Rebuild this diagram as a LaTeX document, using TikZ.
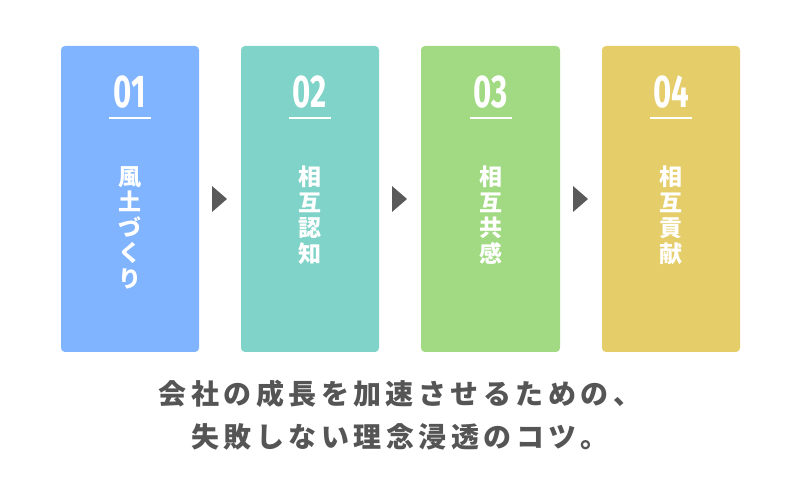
\documentclass[tikz,border=0pt]{standalone}
\usepackage{fontspec}
\usepackage{tikz}
\usetikzlibrary{calc}
\newfontfamily\jpfont{Noto Sans CJK JP}
\newfontfamily\jpcapfont[LetterSpace=16]{Noto Sans CJK JP}
\newfontfamily\numfont[FakeStretch=0.68]{Fira Sans}
\definecolor{cardblue}{HTML}{80B4FF}
\definecolor{cardteal}{HTML}{80D3C8}
\definecolor{cardgreen}{HTML}{A1DA82}
\definecolor{cardyellow}{HTML}{E5CD6A}
\definecolor{arrowgray}{HTML}{5A5A5A}
\definecolor{captiongray}{HTML}{555555}

\begin{document}
\begin{tikzpicture}[x=1pt,y=1pt,
    stepcard/.style={rounded corners=4pt},
    stepnum/.style={text=white, inner sep=0, font=\numfont\bfseries\fontsize{46}{46}\selectfont},
    stepline/.style={white, line width=2pt},
    steptext/.style={text=white, inner sep=0, anchor=north, align=center,
        font=\jpfont\bfseries\fontsize{23}{25.5}\selectfont},
    captext/.style={text=captiongray, inner sep=0,
        font=\jpcapfont\bfseries\fontsize{28}{28}\selectfont}]
    \useasboundingbox (0,0) rectangle (800,500);

    % cards
    \fill[cardblue, stepcard] (61,148) rectangle (199,454);
    \fill[cardteal, stepcard] (241,148) rectangle (379,454);
    \fill[cardgreen, stepcard] (421,148) rectangle (560,454);
    \fill[cardyellow, stepcard] (602,148) rectangle (740,454);

    % numbers and rules
    \node[stepnum] (n1) at (130,408) {01};
    \node[stepnum] (n2) at (310,408) {02};
    \node[stepnum] (n3) at (490.5,408) {03};
    \node[stepnum] (n4) at (671,408) {04};
    \draw[stepline] (109,382) -- (151,382);
    \draw[stepline] (289,382) -- (331,382);
    \draw[stepline] (469.5,382) -- (511.5,382);
    \draw[stepline] (650,382) -- (692,382);

    % vertical labels
    \node[steptext] (t1) at (130,334) {風\\土\\づ\\く\\り};
    \node[steptext] (t2) at (310,334) {相\\互\\認\\知};
    \node[steptext] (t3) at (490.5,334) {相\\互\\共\\感};
    \node[steptext] (t4) at (671,334) {相\\互\\貢\\献};

    % triangles
    \fill[arrowgray] (212,314) -- (227,301) -- (212,288) -- cycle;
    \fill[arrowgray] (392,314) -- (407,301) -- (392,288) -- cycle;
    \fill[arrowgray] (573,314) -- (588,301) -- (573,288) -- cycle;

    % caption
    \node[captext] (c1) at (400,106) {会社の成長を加速させるための、};
    \node[captext] (c2) at (400,63) {失敗しない理念浸透のコツ。};
\end{tikzpicture}
\end{document}
